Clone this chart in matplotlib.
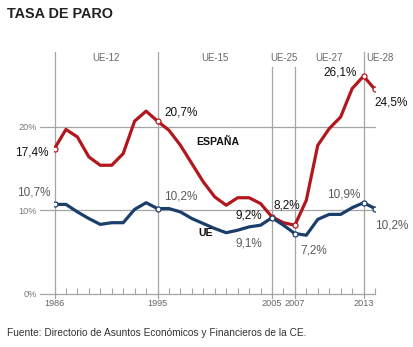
import matplotlib
matplotlib.use('Agg')
import matplotlib.pyplot as plt

plt.rcParams['font.family'] = ['Liberation Sans', 'DejaVu Sans']

# Tasa de paro anual (%), 1986-2014
years = list(range(1986, 2015))
espana = [17.4, 19.7, 18.8, 16.4, 15.4, 15.4, 16.8, 20.7, 21.9, 20.7,
          19.6, 17.8, 15.6, 13.4, 11.6, 10.6, 11.5, 11.5, 10.8, 9.2,
          8.5, 8.2, 11.2, 17.8, 19.8, 21.2, 24.6, 26.1, 24.5]
ue = [10.7, 10.7, 9.8, 9.0, 8.3, 8.5, 8.5, 10.1, 10.9, 10.2,
      10.2, 9.8, 9.0, 8.4, 7.8, 7.3, 7.6, 8.0, 8.2, 9.1,
      8.2, 7.2, 7.0, 8.9, 9.5, 9.5, 10.3, 10.9, 10.2]

marked_years = [1986, 1995, 2005, 2007, 2013, 2014]
label_years = [1986, 1995, 2005, 2007, 2013]
period_names = ['UE-12', 'UE-15', 'UE-25', 'UE-27', 'UE-28']
y_ticks = [0, 10, 20]

RED = '#b2171d'
BLUE = '#1c3e6a'
GRID = '#a5a5a5'
DARK = '#111111'
GREY = '#5a5a5a'

W, H = 414, 347
fig = plt.figure(figsize=(W / 100, H / 100), dpi=100)
fig.patch.set_facecolor('white')

# axes box in pixels: x 54.5..375, y 52..293.5
ax = fig.add_axes([54.5 / W, (H - 293.5) / H, (375 - 54.5) / W, (293.5 - 52) / H])
ax.set_xlim(1986, 2014)
ax.set_ylim(0, 29)
for s in ax.spines.values():
    s.set_visible(False)
ax.patch.set_alpha(0)

# horizontal reference lines (reach a little left of 1986)
x_left = 1986 - 14.5 / 11.45
for yv in y_ticks:
    ax.plot([x_left, 2014], [yv, yv], color=GRID, lw=0.9, clip_on=False, zorder=1)

# period dividers
top_of = {1986: 29, 1995: 29, 2005: 27.2, 2007: 27.2, 2013: 29}
for yr in label_years:
    ax.plot([yr, yr], [-0.55, top_of[yr]], color=GRID, lw=0.9, clip_on=False, zorder=1)

# period names
period_x = [(1986 + 1995) / 2, (1995 + 2005) / 2, (2005 + 2007) / 2,
            (2007 + 2013) / 2, 2014.4]
for name, xp in zip(period_names, period_x):
    ax.text(xp, 28.3, name, ha='center', va='center', fontsize=6.9, color='#666666')

# year ticks along the base line
ax.set_xticks(years)
ax.set_xticklabels([str(y) if y in label_years else '' for y in years],
                   fontsize=6.6, color='#666666')
ax.tick_params(axis='x', direction='in', length=4, width=0.8, color=GRID, pad=4)
ax.set_yticks(y_ticks)
ax.set_yticklabels([f'{v}%' for v in y_ticks], fontsize=6.6, color='#777777')
ax.tick_params(axis='y', length=0, pad=12.5)

# series
ax.plot(years, espana, color=RED, lw=2.3, solid_joinstyle='round', zorder=3)
ax.plot(years, ue, color=BLUE, lw=2.3, solid_joinstyle='round', zorder=3)
for series, col in ((espana, RED), (ue, BLUE)):
    mx = marked_years
    my = [series[years.index(y)] for y in mx]
    ax.plot(mx, my, 'o', ms=3.6, mfc='white', mec=col, mew=0.9, zorder=4)


def fmt(v):
    return f'{v:.1f}'.replace('.', ',') + '%'


# value labels: (year, dx px, dy px, ha)
esp_labels = [(1986, -6, -3.5, 'right'), (1995, 6.5, 9, 'left'),
              (2005, -10, 1, 'right'), (2007, -8.5, 20, 'center'),
              (2013, -6.5, 4, 'right'), (2014, -1, -13.5, 'left')]
ue_labels = [(1986, -4, 12, 'right'), (1995, 6.5, 12, 'left'),
             (2005, -10, -26, 'right'), (2007, 5, -16.5, 'left'),
             (2013, -3, 8, 'right'), (2014, 0, -16.5, 'left')]
for series, labels, col in ((espana, esp_labels, DARK), (ue, ue_labels, GREY)):
    for yr, dx, dy, ha in labels:
        v = series[years.index(yr)]
        ax.annotate(fmt(v), (yr, v), xytext=(dx * 0.72, dy * 0.72),
                    textcoords='offset points', ha=ha, va='center',
                    fontsize=8.5, color=col, zorder=5)

ax.text(1998.4, (293.5 - 141.5) / 8.33, 'ESPAÑA', ha='left', va='center',
        fontsize=7.6, fontweight='bold', color=DARK)
ax.text(1998.6, (293.5 - 233) / 8.33, 'UE', ha='left', va='center',
        fontsize=7.6, fontweight='bold', color=DARK)

fig.text(7 / W, 1 - 13.5 / H, 'TASA DE PARO', ha='left', va='center',
         fontsize=10.4, fontweight='bold', color='#222222')
fig.text(7 / W, 1 - 333 / H,
         'Fuente: Directorio de Asuntos Económicos y Financieros de la CE.',
         ha='left', va='center', fontsize=7.3, color='#333333')

fig.savefig('out.png', dpi=100, facecolor='white')
